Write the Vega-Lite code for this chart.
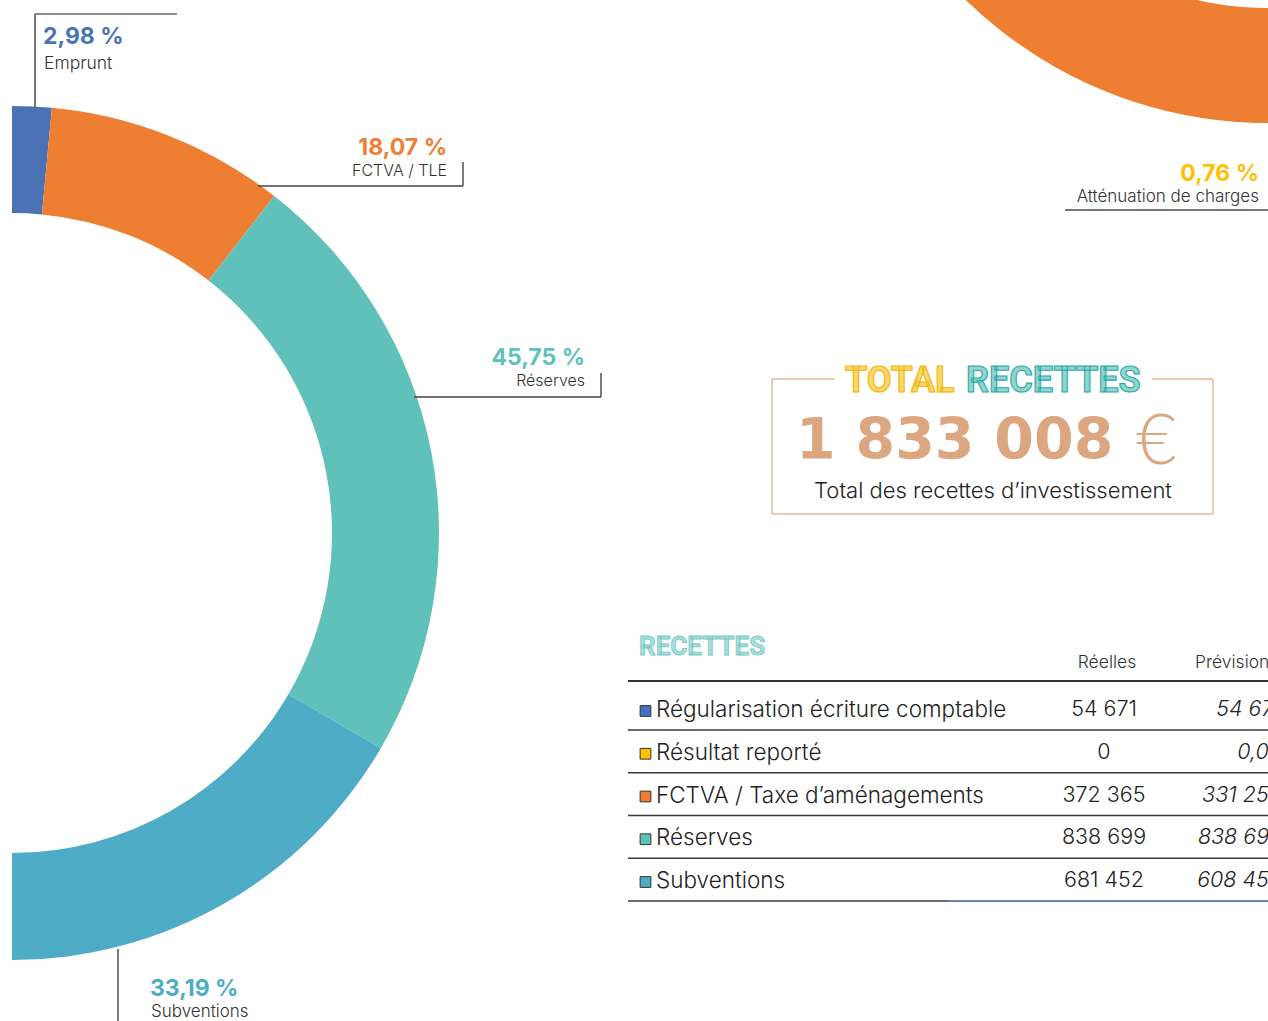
{
  "$schema": "https://vega.github.io/schema/vega-lite/v6.json",
  "width": 1268,
  "height": 1021,
  "autosize": {"type": "none"},
  "padding": 0,
  "background": "#ffffff",
  "config": {
    "view": {"stroke": null},
    "font": "Inter",
    "locale": {"number": {"decimal": ",", "thousands": " ", "grouping": [3], "currency": ["", " €"], "percent": " %"}}
  },
  "datasets": {
    "cadre": [{}],
    "investissement": [
      {"poste": "Emprunt", "part": 0.0298},
      {"poste": "FCTVA / TLE", "part": 0.1807},
      {"poste": "Réserves", "part": 0.4575},
      {"poste": "Subventions", "part": 0.3319}
    ],
    "fonctionnement": [
      {"poste": "Atténuation de charges", "part": 0.0076}
    ],
    "total": [
      {"libelle": "Total des recettes d’investissement", "montant": 1833008}
    ],
    "recettes": [
      {"poste": "Régularisation écriture comptable", "reelles": 54671, "prevision": "54 671"},
      {"poste": "Résultat reporté", "reelles": 0, "prevision": "0,00"},
      {"poste": "FCTVA / Taxe d’aménagements", "reelles": 372365, "prevision": "331 250"},
      {"poste": "Réserves", "reelles": 838699, "prevision": "838 699"},
      {"poste": "Subventions", "reelles": 681452, "prevision": "608 450"}
    ]
  },
  "data": {"name": "cadre"},
  "resolve": {"scale": {"color": "independent", "theta": "independent"}},
  "layer": [
    {
      "mark": {"type": "arc", "theta": 2.4, "theta2": 4.9, "radius": 433, "radius2": 318, "fill": "#EE7F32", "clip": true},
      "encoding": {"x": {"value": 1268}, "y": {"value": -310}}
    },
    {
      "data": {"name": "investissement"},
      "mark": {"type": "arc", "radius": 427, "radius2": 320},
      "encoding": {
        "x": {"value": 12},
        "y": {"value": 533},
        "theta": {"field": "part", "type": "quantitative", "stack": true, "scale": {"range": [0, 3.14159265]}},
        "order": {"field": "poste", "sort": "ascending"},
        "color": {"field": "poste", "type": "nominal", "legend": null,
          "scale": {"domain": ["Emprunt", "FCTVA / TLE", "Réserves", "Subventions"], "range": ["#4A72B5", "#EE7F32", "#60C1BB", "#4EACC6"]}}
      }
    },
    {"mark": {"type": "rule", "color": "#1e1e1e", "strokeWidth": 1.2}, "encoding": {"x": {"value": 35}, "y": {"value": 14}, "y2": {"value": 107}}},
    {"mark": {"type": "rule", "color": "#1e1e1e", "strokeWidth": 1.2}, "encoding": {"x": {"value": 35}, "x2": {"value": 177}, "y": {"value": 14}}},
    {"mark": {"type": "rule", "color": "#444444", "strokeWidth": 1.4}, "encoding": {"x": {"value": 258}, "x2": {"value": 463}, "y": {"value": 186}}},
    {"mark": {"type": "rule", "color": "#444444", "strokeWidth": 1.4}, "encoding": {"x": {"value": 463}, "y": {"value": 162}, "y2": {"value": 186}}},
    {"mark": {"type": "rule", "color": "#444444", "strokeWidth": 1.4}, "encoding": {"x": {"value": 414}, "x2": {"value": 601}, "y": {"value": 397}}},
    {"mark": {"type": "rule", "color": "#444444", "strokeWidth": 1.4}, "encoding": {"x": {"value": 601}, "y": {"value": 373}, "y2": {"value": 397}}},
    {"mark": {"type": "rule", "color": "#444444", "strokeWidth": 1.4}, "encoding": {"x": {"value": 118}, "y": {"value": 949}, "y2": {"value": 1021}}},
    {"mark": {"type": "rule", "color": "#777777", "strokeWidth": 2}, "encoding": {"x": {"value": 1065}, "x2": {"value": 1268}, "y": {"value": 210}}},
    {
      "data": {"name": "investissement"},
      "transform": [{"filter": "datum.poste === 'Emprunt'"}],
      "layer": [
        {"mark": {"type": "text", "align": "left", "baseline": "middle", "fontSize": 23, "fontWeight": "bold", "color": "#4A72B5"},
         "encoding": {"text": {"field": "part", "type": "quantitative", "format": ".2%"}, "x": {"value": 43}, "y": {"value": 37}}},
        {"mark": {"type": "text", "align": "left", "baseline": "middle", "fontSize": 17.5, "fontWeight": 300, "color": "#333333"},
         "encoding": {"text": {"field": "poste", "type": "nominal"}, "x": {"value": 44}, "y": {"value": 64}}}
      ]
    },
    {
      "data": {"name": "investissement"},
      "transform": [{"filter": "datum.poste === 'FCTVA / TLE'"}],
      "layer": [
        {"mark": {"type": "text", "align": "right", "baseline": "middle", "fontSize": 23, "fontWeight": "bold", "color": "#EE7F32"},
         "encoding": {"text": {"field": "part", "type": "quantitative", "format": ".2%"}, "x": {"value": 447}, "y": {"value": 148}}},
        {"mark": {"type": "text", "align": "right", "baseline": "middle", "fontSize": 16, "fontWeight": 300, "color": "#333333"},
         "encoding": {"text": {"field": "poste", "type": "nominal"}, "x": {"value": 447}, "y": {"value": 171}}}
      ]
    },
    {
      "data": {"name": "investissement"},
      "transform": [{"filter": "datum.poste === 'Réserves'"}],
      "layer": [
        {"mark": {"type": "text", "align": "right", "baseline": "middle", "fontSize": 23, "fontWeight": "bold", "color": "#60C1BB"},
         "encoding": {"text": {"field": "part", "type": "quantitative", "format": ".2%"}, "x": {"value": 585}, "y": {"value": 358}}},
        {"mark": {"type": "text", "align": "right", "baseline": "middle", "fontSize": 16, "fontWeight": 300, "color": "#333333"},
         "encoding": {"text": {"field": "poste", "type": "nominal"}, "x": {"value": 585}, "y": {"value": 381}}}
      ]
    },
    {
      "data": {"name": "investissement"},
      "transform": [{"filter": "datum.poste === 'Subventions'"}],
      "layer": [
        {"mark": {"type": "text", "align": "left", "baseline": "middle", "fontSize": 23, "fontWeight": "bold", "color": "#4EACC6"},
         "encoding": {"text": {"field": "part", "type": "quantitative", "format": ".2%"}, "x": {"value": 150}, "y": {"value": 989}}},
        {"mark": {"type": "text", "align": "left", "baseline": "middle", "fontSize": 17, "fontWeight": 300, "color": "#333333"},
         "encoding": {"text": {"field": "poste", "type": "nominal"}, "x": {"value": 151}, "y": {"value": 1012}}}
      ]
    },
    {
      "data": {"name": "fonctionnement"},
      "layer": [
        {"mark": {"type": "text", "align": "right", "baseline": "middle", "fontSize": 23, "fontWeight": "bold", "color": "#FFC000"},
         "encoding": {"text": {"field": "part", "type": "quantitative", "format": ".2%"}, "x": {"value": 1259}, "y": {"value": 174}}},
        {"mark": {"type": "text", "align": "right", "baseline": "middle", "fontSize": 17, "fontWeight": 300, "color": "#333333"},
         "encoding": {"text": {"field": "poste", "type": "nominal"}, "x": {"value": 1259}, "y": {"value": 197}}}
      ]
    },
    {"mark": {"type": "rule", "color": "#E3B897", "strokeWidth": 1.5}, "encoding": {"x": {"value": 772}, "x2": {"value": 835}, "y": {"value": 379}}},
    {"mark": {"type": "rule", "color": "#E3B897", "strokeWidth": 1.5}, "encoding": {"x": {"value": 1152}, "x2": {"value": 1213}, "y": {"value": 379}}},
    {"mark": {"type": "rule", "color": "#E3B897", "strokeWidth": 1.5}, "encoding": {"x": {"value": 772}, "y": {"value": 379}, "y2": {"value": 514}}},
    {"mark": {"type": "rule", "color": "#E3B897", "strokeWidth": 1.5}, "encoding": {"x": {"value": 1213}, "y": {"value": 379}, "y2": {"value": 514}}},
    {"mark": {"type": "rule", "color": "#E3B897", "strokeWidth": 1.5}, "encoding": {"x": {"value": 772}, "x2": {"value": 1213}, "y": {"value": 514}}},
    {"mark": {"type": "text", "align": "left", "baseline": "middle", "font": "Roboto", "fontSize": 36, "fontWeight": "bold", "fill": "#FBD66E", "stroke": "#F2B705", "strokeWidth": 1.1},
     "encoding": {"text": {"value": "TOTAL"}, "x": {"value": 845}, "y": {"value": 381}}},
    {"mark": {"type": "text", "align": "left", "baseline": "middle", "font": "Roboto", "fontSize": 36, "fontWeight": "bold", "fill": "#8FD6D1", "stroke": "#2EAAA4", "strokeWidth": 1.1},
     "encoding": {"text": {"value": "RECETTES"}, "x": {"value": 966}, "y": {"value": 381}}},
    {
      "data": {"name": "total"},
      "layer": [
        {"mark": {"type": "text", "align": "left", "baseline": "middle", "font": "DejaVu Sans", "fontSize": 57, "fontWeight": "bold", "color": "#DBA680"},
         "encoding": {"text": {"field": "montant", "type": "quantitative", "format": ",d"}, "x": {"value": 796}, "y": {"value": 442}}},
        {"mark": {"type": "text", "align": "left", "baseline": "middle", "font": "Lato", "fontSize": 70, "fontWeight": 300, "color": "#DBA680"},
         "encoding": {"text": {"value": "€"}, "x": {"value": 1136}, "y": {"value": 443}}},
        {"mark": {"type": "text", "align": "center", "baseline": "middle", "fontSize": 22, "fontWeight": 300, "color": "#222222"},
         "encoding": {"text": {"field": "libelle", "type": "nominal"}, "x": {"value": 993}, "y": {"value": 491}}}
      ]
    },
    {"mark": {"type": "text", "align": "left", "baseline": "middle", "font": "Roboto", "fontSize": 26, "fontWeight": "bold", "fill": "#A9DEDA", "stroke": "#74C9C3", "strokeWidth": 0.8},
     "encoding": {"text": {"value": "RECETTES"}, "x": {"value": 639}, "y": {"value": 647}}},
    {"mark": {"type": "text", "align": "center", "baseline": "middle", "fontSize": 17.5, "fontWeight": 300, "color": "#333333"},
     "encoding": {"text": {"value": "Réelles"}, "x": {"value": 1107}, "y": {"value": 663}}},
    {"mark": {"type": "text", "align": "left", "baseline": "middle", "fontSize": 17.5, "fontWeight": 300, "color": "#333333"},
     "encoding": {"text": {"value": "Prévision"}, "x": {"value": 1195}, "y": {"value": 663}}},
    {"mark": {"type": "rule", "color": "#333333", "strokeWidth": 2}, "encoding": {"x": {"value": 628}, "x2": {"value": 1268}, "y": {"value": 681}}},
    {
      "data": {"name": "recettes"},
      "encoding": {
        "y": {"field": "poste", "type": "nominal", "sort": null, "axis": null,
          "scale": {"type": "point", "domain": ["Régularisation écriture comptable", "Résultat reporté", "FCTVA / Taxe d’aménagements", "Réserves", "Subventions"], "range": [709, 880], "padding": 0}}
      },
      "layer": [
        {"mark": {"type": "rule", "color": "#3a3a3a", "strokeWidth": 1.5, "yOffset": 21},
         "encoding": {"x": {"value": 628}, "x2": {"value": 1268}}},
        {"mark": {"type": "point", "shape": "square", "filled": true, "size": 115, "stroke": "#333333", "strokeWidth": 1, "opacity": 1, "yOffset": 2},
         "encoding": {"x": {"value": 645.5},
           "color": {"field": "poste", "type": "nominal", "legend": null,
             "scale": {"domain": ["Régularisation écriture comptable", "Résultat reporté", "FCTVA / Taxe d’aménagements", "Réserves", "Subventions"], "range": ["#4472C4", "#FFC000", "#ED7D31", "#5FC1BB", "#4BACC6"]}}}},
        {"mark": {"type": "text", "align": "left", "baseline": "middle", "fontSize": 22.5, "fontWeight": 300, "color": "#222222", "yOffset": 1},
         "encoding": {"x": {"value": 656}, "text": {"field": "poste", "type": "nominal"}}},
        {"mark": {"type": "text", "align": "center", "baseline": "middle", "fontSize": 21.5, "fontWeight": 300, "color": "#222222", "yOffset": 1},
         "encoding": {"x": {"value": 1104}, "text": {"field": "reelles", "type": "quantitative", "format": ",d"}}},
        {"mark": {"type": "text", "align": "right", "baseline": "middle", "fontSize": 21.5, "fontWeight": 300, "fontStyle": "italic", "color": "#222222", "yOffset": 1},
         "encoding": {"x": {"value": 1282}, "text": {"field": "prevision", "type": "nominal"}}}
      ]
    },
    {"mark": {"type": "rule", "color": "#6C8FCB", "strokeWidth": 1.5}, "encoding": {"x": {"value": 948}, "x2": {"value": 1268}, "y": {"value": 901}}}
  ]
}
